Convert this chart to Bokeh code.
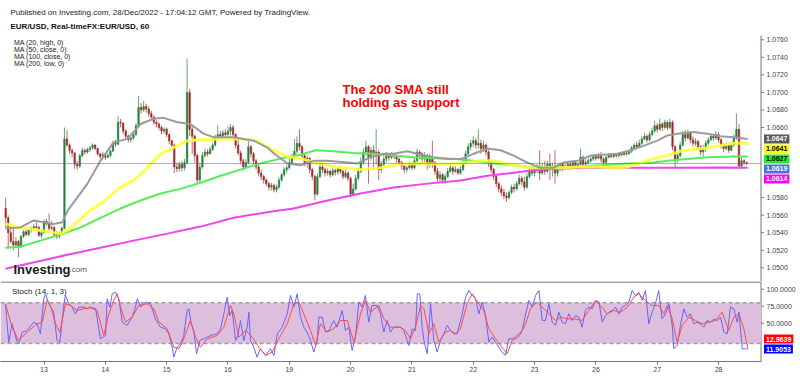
from bokeh.plotting import figure
from bokeh.layouts import column
from bokeh.models import (Range1d, FixedTicker, Label, ColumnDataSource)
from bokeh.core.properties import value
from bokeh.embed import file_html
from bokeh.resources import INLINE

FONT = "Liberation Sans"
BASE = 1.0500      # prices are stored in pips above this base
PIP = 0.0001

# ---------------- hourly EUR/USD candles (pips above 1.0500) ----------------
start_hour = -15          # hour index, 0 = 13 Dec 00:00, weekends removed
first_open = 68
closes = [
    57, 40, 30, 26, 30, 24, 36, 41, 38, 43, 45, 47, 46, 37, 40,
    # 13
    53, 50, 45, 46, 38, 36, 40, 45, 147, 140, 134, 131, 118, 116, 128, 134, 132, 135, 137, 140, 136, 130, 127, 129,
    # 14
    126, 128, 133, 142, 141, 166, 165, 156, 150, 146, 148, 152, 162, 183, 180, 184, 181, 176, 172, 166, 164, 160, 156, 158,
    # 15
    152, 145, 140, 115, 113, 118, 114, 120, 200, 158, 150, 128, 100, 115, 128, 132, 130, 135, 140, 148, 152, 150, 154, 152,
    # 16
    156, 160, 152, 140, 131, 122, 115, 120, 138, 130, 122, 115, 108, 104, 100, 96, 92, 94, 89, 92, 100, 106, 112, 114,
    # 19
    120, 126, 133, 142, 138, 128, 120, 125, 112, 104, 84, 104, 115, 112, 108, 110, 106, 111, 109, 113, 110, 104, 108, 102,
    # 20
    84, 90, 102, 110, 120, 132, 138, 126, 134, 130, 132, 112, 118, 124, 128, 126, 130, 127, 124, 120, 116, 112, 114, 118,
    # 21
    114, 122, 132, 130, 124, 128, 118, 126, 120, 110, 102, 106, 100, 104, 110, 114, 110, 112, 108, 112, 120, 130, 138, 142,
    # 22
    145, 140, 142, 136, 140, 132, 120, 112, 104, 96, 90, 86, 82, 80, 86, 92, 90, 96, 102, 98, 92, 104, 110, 108,
    # 23
    112, 116, 108, 114, 110, 118, 112, 116, 108, 114, 118, 114, 116, 118, 115, 120, 116, 118, 126, 118, 120, 122, 124, 127,
    # 26
    125, 128, 124, 120, 126, 128, 127, 129, 128, 130, 129, 131, 130, 133, 137, 140, 138, 142, 147, 150, 146, 152, 156, 162,
    # 27
    158, 164, 160, 166, 160, 166, 138, 124, 128, 140, 152, 148, 154, 146, 142, 144, 138, 132, 136, 142, 146, 150, 148, 152,
    # 28
    146, 140, 136, 140, 134, 140, 148, 158, 116, 122, 120, 119,
]
highs = [
    80, 60, 48, 46, 35, 32, 37, 43, 44, 45, 47, 50, 52, 48, 44,
    55, 56, 62, 54, 48, 42, 41, 47, 160, 157, 142, 136, 132, 122, 130, 137, 136, 137, 139, 142, 141, 137, 131, 132,
    131, 131, 135, 145, 146, 173, 170, 166, 158, 152, 150, 156, 165, 196, 188, 190, 187, 184, 179, 174, 168, 166, 162, 160,
    160, 153, 146, 141, 120, 121, 122, 124, 239, 204, 162, 152, 130, 120, 132, 136, 135, 138, 142, 152, 163, 156, 157, 158,
    162, 164, 163, 153, 148, 134, 125, 124, 145, 140, 132, 124, 118, 112, 106, 102, 98, 97, 96, 95, 103, 108, 115, 117,
    125, 130, 147, 150, 158, 140, 130, 128, 126, 114, 106, 108, 120, 118, 114, 113, 112, 114, 113, 116, 116, 112, 112, 110,
    104, 96, 106, 114, 126, 136, 145, 140, 138, 140, 158, 134, 122, 128, 132, 130, 132, 131, 129, 126, 122, 118, 117, 121,
    120, 125, 136, 134, 132, 132, 130, 130, 145, 122, 114, 110, 108, 107, 114, 117, 116, 116, 114, 116, 124, 134, 142, 146,
    150, 148, 158, 146, 145, 142, 134, 122, 114, 106, 98, 94, 90, 86, 88, 95, 96, 99, 106, 105, 104, 108, 114, 116,
    116, 118, 134, 120, 122, 122, 130, 120, 134, 118, 120, 120, 118, 121, 120, 123, 122, 120, 136, 128, 124, 126, 127, 130,
    130, 131, 132, 126, 128, 131, 130, 131, 131, 132, 132, 133, 133, 135, 139, 142, 144, 146, 150, 154, 152, 155, 160, 168,
    165, 170, 166, 169, 168, 170, 168, 140, 132, 144, 156, 157, 158, 155, 150, 148, 146, 140, 140, 145, 149, 153, 152, 156,
    155, 148, 142, 143, 142, 144, 152, 176, 164, 126, 124, 121,
]
lows = [
    46, 22, 28, 20, 23, 12, 22, 34, 36, 36, 40, 43, 44, 35, 34,
    39, 48, 42, 43, 36, 33, 33, 38, 44, 138, 130, 126, 113, 112, 114, 126, 129, 130, 132, 135, 134, 128, 124, 126,
    123, 125, 126, 132, 138, 140, 160, 152, 147, 143, 143, 146, 150, 160, 176, 178, 177, 172, 168, 163, 160, 157, 152, 153,
    149, 141, 137, 108, 109, 110, 110, 111, 118, 150, 130, 120, 96, 98, 113, 126, 127, 129, 133, 138, 146, 147, 148, 149,
    150, 151, 150, 136, 128, 118, 111, 113, 118, 126, 118, 112, 105, 100, 96, 93, 88, 88, 86, 86, 90, 98, 104, 108,
    112, 118, 124, 130, 134, 124, 116, 114, 108, 100, 77, 82, 102, 108, 104, 105, 103, 104, 105, 106, 107, 101, 102, 99,
    80, 82, 88, 100, 108, 118, 128, 96, 122, 112, 118, 100, 108, 116, 120, 122, 124, 124, 120, 117, 112, 108, 109, 112,
    111, 112, 120, 124, 120, 118, 112, 114, 114, 106, 98, 97, 96, 96, 102, 108, 106, 108, 106, 106, 110, 118, 128, 134,
    138, 136, 136, 130, 132, 128, 115, 108, 100, 92, 86, 82, 78, 75, 78, 84, 86, 88, 94, 94, 88, 90, 102, 105,
    104, 108, 100, 106, 106, 108, 100, 104, 96, 104, 110, 110, 112, 113, 112, 113, 113, 112, 114, 114, 116, 118, 120, 122,
    122, 124, 120, 117, 118, 125, 125, 125, 126, 126, 127, 128, 128, 129, 131, 135, 136, 137, 140, 145, 143, 144, 150, 154,
    154, 156, 156, 158, 157, 158, 134, 113, 120, 126, 138, 144, 146, 142, 138, 139, 135, 128, 126, 132, 140, 144, 145, 146,
    143, 136, 132, 134, 131, 133, 138, 146, 113, 113, 117, 117,
]

# ---------------- moving averages (hour, pips above 1.0500) ----------------
ma20_h = [-15.1, -9.2, -4.1, -0.2, 3.7, 7.2, 9.2, 17.0, 22.1, 27.2, 32.7, 37.8, 42.9, 46.8, 52.3, 57.3,
          62.4, 66.3, 74.2, 82.0, 87.5, 89.8, 95.3, 100.4, 105.5, 111.0, 118.8, 122.7, 127.8, 132.9,
          136.8, 142.3, 147.4, 152.4, 158.0, 163.0, 168.1, 173.6, 178.7, 183.8, 189.2, 194.3, 199.4,
          203.3, 208.8, 213.9, 219.0, 224.5, 229.6, 234.6, 240.1, 244.0, 248.0, 254.2, 259.7, 264.8,
          269.9, 275.4]
ma20_v = [45, 46, 54, 52, 50, 52, 65, 96, 122, 143, 147, 164, 170, 171, 166, 164, 153, 149, 149, 145,
          137, 131, 119, 117, 122, 122, 120, 119, 126, 130, 130, 133, 129, 126, 124, 124, 130, 136, 134,
          128, 120, 114, 114, 120, 122, 128, 129, 130, 134, 139, 145, 151, 153, 155, 153, 150, 149, 147]

ma50_h = [-15.1, -9.2, -1.4, 6.5, 10.4, 17.0, 22.1, 29.9, 35.0, 40.5, 45.6, 50.7, 56.2, 61.3, 69.1,
          76.9, 83.6, 88.6, 95.3, 100.4, 108.2, 116.0, 123.9, 131.7, 139.5, 147.4, 155.2, 163.0,
          170.8, 175.9, 183.8, 190.4, 202.2, 210.0, 217.8, 222.9, 228.4, 233.5, 238.6, 244.0, 249.1,
          254.2, 259.7, 264.8, 269.9, 275.4]
ma50_v = [50, 46, 42.5, 39, 45, 63, 73, 92, 99.5, 114, 130, 137, 145, 146, 147, 147, 145, 136, 127,
          124.5, 119, 114, 112, 114, 118, 119, 118, 119, 122, 122, 117, 114, 114, 115, 115, 114, 115,
          120, 124.5, 128, 133, 135, 137, 139.5, 142, 142]

ma100_h = [-15.1, -9.2, -1.4, 6.5, 14.3, 22.1, 29.9, 37.8, 45.6, 53.4, 61.3, 69.1, 76.9, 84.7, 92.6,
           100.4, 106.3, 113.3, 121.1, 128.9, 136.8, 144.6, 152.4, 160.3, 168.1, 175.9, 183.8, 190.4,
           197.1, 207.2, 217.8, 228.4, 238.6, 244.0, 249.1, 259.7, 269.9, 275.4]
ma100_v = [23, 24, 31, 38, 46, 57, 67.6, 76.7, 84.7, 90, 97, 105, 112, 119, 124.5, 129, 134, 133, 131,
           130, 128, 126, 125, 124.5, 122, 119, 117, 115, 115, 115, 117, 119, 120, 122, 123.5, 126, 127, 127]

ma200_h = [-15.1, -4.1, 9.2, 22.1, 35.0, 48.3, 61.3, 74.2, 88.6, 97.7, 111.0, 123.9, 136.8, 150.1,
           163.0, 173.6, 181.4, 190.4, 199.4, 212.7, 225.6, 238.6, 251.8, 264.8, 275.4]
ma200_v = [-1, 6, 15, 23, 31, 39, 47, 57, 64, 67.6, 76.7, 84.7, 91.5, 96, 99.5, 105, 107.5, 111, 113,
           114, 114, 114, 114, 114.5, 114]

# last values shown on the price scale (value, text, background, text colour)
price_tags = [(1.0647, "1.0647", "#5a5a5a", "white"),
              (1.0641, "1.0641", "#ffff00", "black"),
              (1.0627, "1.0627", "#22ee22", "black"),
              (1.0619, "1.0619", "#4472d8", "white"),
              (1.0614, "1.0614", "#ff00ff", "white")]
last_price = 1.0619

# ---------------- stochastic (14, 1, 3) ----------------
k_hours = [-15.1, -13.8, -12.5, -10.5, -9.9, -8.5, -6.6, -4.0, -2.7, -1.4,
           -0.1, 0.6, 1.9, 3.8, 5.1, 6.2, 7.8, 8.4, 9.7, 11.0,
           12.3, 13.6, 15.6, 16.9, 18.2, 20.2, 22.1, 24.1, 24.7, 25.8,
           26.7, 28.0, 29.3, 30.6, 32.5, 34.5, 35.8, 36.5, 37.8, 39.7,
           41.7, 43.6, 45.6, 47.5, 48.9, 50.2, 50.8, 52.1, 53.4, 54.7,
           56.0, 56.7, 57.6, 58.6, 59.7, 61.0, 62.6, 65.2, 67.8, 69.1,
           70.4, 71.7, 72.7, 73.6, 75.0, 75.9, 76.9, 78.2, 79.5, 80.2,
           80.8, 82.1, 83.4, 84.7, 86.7, 88.6, 90.0, 91.3, 93.2, 95.2,
           96.5, 97.8, 99.1, 100.4, 101.7, 103.0, 104.3, 105.6, 106.9, 107.6,
           108.9, 110.2, 111.5, 113.4, 114.7, 116.7, 118.0, 119.3, 120.6, 121.9,
           123.2, 124.5, 125.8, 127.1, 128.4, 130.4, 131.7, 133.0, 134.3, 135.6,
           136.9,
           139.5, 140.8, 142.8, 144.1, 145.4, 146.1, 147.1, 148.0, 148.7, 150.0,
           151.3, 152.6, 153.9, 155.2, 156.5, 157.8, 159.1, 160.4, 161.7, 163.7,
           165.0, 166.3, 167.6, 168.9, 170.2, 171.5, 172.8, 174.1, 175.4, 176.7,
           178.0, 179.3, 180.6, 181.9, 183.2, 184.5, 185.8, 187.2, 188.5, 189.8,
           191.1, 192.4, 193.7, 195.0, 196.3, 197.6, 198.9, 200.2, 201.5, 202.8,
           204.1, 205.4, 206.7, 208.0, 209.3, 210.6, 211.9, 213.2, 214.5, 215.9,
           217.2, 218.5, 219.8, 221.1, 222.4, 223.7, 225.0, 226.3, 227.6, 228.9,
           230.2, 231.5, 232.8, 234.1, 235.4, 236.7, 238.0, 239.3, 240.6, 241.9,
           243.3, 244.6, 245.9, 246.5, 247.8, 249.1, 250.4, 251.7, 253.0, 254.3,
           255.6, 256.9, 258.2, 259.6, 260.9, 262.2, 263.5, 264.8, 266.1, 267.4,
           268.7, 270.0, 271.3, 272.0, 273.3, 274.6, 275.5]
k_values = [78.5, 22.2, 49.1, 22.2, 19.7, 36.9, 39.3, 51.5, 49.1, 34.4,
            85.9, 93.2, 78.5, 66.2, 24.6, 22.2, 78.5, 90.8, 78.5, 73.6,
            63.8, 73.6, 73.6, 71.2, 73.6, 71.2, 27.0, 32.0, 85.9, 73.6,
            93.2, 95.6, 85.9, 51.5, 46.7, 58.9, 73.6, 85.9, 73.6, 81.0,
            78.5, 56.4, 44.2, 41.8, 34.4, 14.8, 0.0, 14.8, 19.7, 32.0,
            68.7, 71.2, 49.1, 39.3, 5.0, 24.6, 27.0, 32.0, 34.4, 41.8,
            63.8, 88.3, 61.3, 68.7, 24.6, 32.0, 54.0, 24.6, 44.2, 66.2,
            24.6, 14.8, 0.0, 12.4, 2.6, 12.4, 2.6, 34.4, 44.2, 63.8,
            90.8, 73.6, 93.2, 58.9, 44.2, 36.9, 24.6, 7.5, 24.6, 58.9,
            58.9, 36.9, 39.3, 54.0, 44.2, 68.7, 39.3, 44.2, 9.9, 29.5,
            81.0, 73.6, 90.8, 51.5, 76.1, 76.1, 63.8, 36.9, 54.0, 36.9,
            44.2,
            44.2, 39.3, 17.3, 41.8, 39.3, 93.2, 93.2, 44.2, 24.6, 5.0,
            78.5, 24.6, 7.5, 24.6, 34.4, 46.7, 39.3, 34.4, 34.4, 63.8,
            88.3, 98.1, 90.8, 85.9, 63.8, 81.0, 61.3, 22.2, 29.5, 22.2,
            14.8, 7.5, 2.6, 27.0, 27.0, 29.5, 34.4, 39.3, 63.8, 83.4,
            73.6, 90.8, 98.1, 54.0, 54.0, 78.5, 51.5, 46.7, 66.2, 51.5,
            49.1, 63.8, 54.0, 61.3, 58.9, 44.2, 68.7, 73.6, 71.2, 83.4,
            81.0, 51.5, 61.3, 66.2, 68.7, 73.6, 63.8, 73.6, 76.1, 81.0,
            98.1, 90.8, 95.6, 83.4, 98.1, 49.1, 66.2, 78.5, 98.1, 56.4,
            63.8, 78.5, 46.7, 12.4, 17.3, 46.7, 71.2, 58.9, 63.8, 49.1,
            51.5, 49.1, 44.2, 54.0, 51.5, 56.4, 54.0, 58.9, 36.9, 34.4,
            73.6, 71.2, 51.5, 66.2, 12.4, 12.4, 11.9]
d_hours = [-15.1, -12.5, -9.9, -6.6, -2.7, -0.7, 1.2, 2.5, 4.5, 6.2,
           8.4, 10.4, 13.0, 15.6, 18.2, 20.8, 23.4, 25.4, 27.3, 28.6,
           30.0, 31.9, 34.5, 37.1, 40.4, 43.0, 45.0, 48.2, 50.8, 52.8,
           54.7, 57.3, 59.3, 61.2, 63.9, 67.8, 70.4, 73.0, 74.3, 76.2,
           78.9, 81.5, 84.1, 86.7, 89.3, 91.9, 95.2, 97.8, 99.7, 101.7,
           104.3, 106.3, 108.2, 110.8, 113.4, 116.0, 118.7, 121.3, 123.9, 125.8,
           127.8, 131.0, 133.0, 135.6,
           139.5, 141.5, 143.4, 145.4, 147.4, 148.7, 150.6, 152.6, 154.5, 157.1,
           159.1, 161.1, 163.0, 165.6, 167.6, 170.2, 172.1, 174.1, 176.7, 179.3,
           181.3, 183.2, 185.8, 188.5, 190.4, 193.0, 195.0, 197.6, 200.2, 202.2,
           204.8, 207.4, 210.6, 213.2, 215.9, 217.8, 220.4, 223.0, 225.6, 228.3,
           230.9, 232.8, 235.4, 238.0, 240.6, 242.6, 243.9, 245.9, 247.8, 249.8,
           252.4, 254.9, 257.6, 260.2, 262.8, 265.4, 268.0, 270.0, 272.0, 273.9,
           275.5]
d_values = [78.5, 44.2, 24.6, 36.9, 49.1, 51.5, 83.4, 76.1, 49.1, 36.9,
            78.5, 76.1, 68.7, 71.2, 72.6, 68.7, 32.0, 63.8, 83.4, 93.2,
            73.6, 51.5, 58.9, 76.1, 78.5, 71.2, 51.5, 41.8, 14.8, 12.4,
            27.0, 54.0, 29.5, 14.8, 27.0, 32.0, 44.2, 76.1, 63.8, 29.5,
            39.3, 29.5, 14.8, 2.6, 7.5, 27.0, 49.1, 78.5, 81.0, 63.8,
            39.3, 17.3, 49.1, 36.9, 41.8, 54.0, 54.0, 22.2, 63.8, 83.4,
            66.2, 76.1, 56.4, 44.2,
            44.2, 39.3, 27.0, 44.2, 76.1, 71.2, 34.4, 49.1, 22.2, 36.9,
            39.3, 34.4, 41.8, 78.5, 93.2, 78.5, 68.7, 41.8, 27.0, 14.8,
            5.0, 24.6, 29.5, 49.1, 71.2, 81.0, 73.6, 63.8, 54.0, 58.9,
            56.4, 56.4, 54.0, 68.7, 83.4, 76.1, 63.8, 68.7, 66.2, 73.6,
            88.3, 93.2, 83.4, 76.1, 76.1, 63.8, 76.1, 56.4, 22.2, 46.7,
            58.9, 54.0, 49.1, 51.5, 54.0, 66.2, 39.3, 58.9, 63.8, 41.8,
            13.0]
stoch_tags = [(11.9053, "11.9053", "#0000ff"), (12.9639, "12.9639", "#ff0000")]
stoch_ticks = [50, 75, 100]
band = (20, 80)

# x axis: day starts (hour index) and their labels
day_hours = [0, 24, 48, 72, 96, 120, 144, 168, 192, 216, 240, 264]
day_labels = ["13", "14", "15", "16", "19", "20", "21", "22", "23", "26", "27", "28"]
price_ticks = [1.0500, 1.0520, 1.0540, 1.0560, 1.0580, 1.0660, 1.0680, 1.0700, 1.0720, 1.0740, 1.0760]


def to_price(vals):
    return [BASE + v * PIP for v in vals]


# ---------------- layout constants (page pixels -> hour units) ----------------
PX_PER_HOUR = 2.555
H0_PX = 43.5                 # page x of hour 0


def hx(page_x):
    return (page_x - H0_PX) / PX_PER_HOUR


X_START, X_END = hx(0), hx(800)
X_AXIS = hx(760.5)           # price-scale line
X_TICK = hx(763.5)
X_LABEL = hx(766)
X_TAG = hx(763.5)

xr = Range1d(X_START, X_END)
P1_H = 281
P2_BOTTOM = 361

p1 = figure(width=800, height=P1_H, x_range=xr, y_range=Range1d(1.04844, 1.080481),
            output_backend="svg", toolbar_location=None, x_axis_location=None,
            y_axis_location=None, min_border_left=0, min_border_right=0,
            min_border_top=0, min_border_bottom=0)
p2 = figure(width=800, height=95, x_range=xr, y_range=Range1d(-6.3, 111.3),
            output_backend="svg", toolbar_location=None, y_axis_location=None,
            min_border_left=0, min_border_right=0, min_border_top=0, min_border_bottom=15)

for p in (p1, p2):
    p.outline_line_color = None
    p.xgrid.visible = False
    p.ygrid.visible = False
    p.background_fill_color = "white"
    p.border_fill_color = "white"

xa = p2.xaxis[0]
xa.ticker = FixedTicker(ticks=day_hours)
xa.major_label_overrides = {h: l for h, l in zip(day_hours, day_labels)}
xa.bounds = (X_START, X_AXIS)
xa.axis_line_color = "#777777"
xa.major_tick_line_color = "#777777"
xa.major_tick_out = 3
xa.major_tick_in = 0
xa.minor_tick_line_color = None
xa.major_label_text_font = FONT
xa.major_label_text_font_size = "7px"
xa.major_label_text_color = "#444444"
xa.major_label_standoff = 2


def price_scale(fig, ticks, labels, y_top, y_bottom):
    n = len(ticks)
    fig.segment(x0=[X_AXIS], y0=[y_bottom], x1=[X_AXIS], y1=[y_top],
                line_color="#777777", line_width=1)
    fig.segment(x0=[X_AXIS] * n, y0=ticks, x1=[X_TICK] * n, y1=ticks,
                line_color="#777777", line_width=1)
    fig.text(x=[X_LABEL] * n, y=ticks, text=labels, text_font=value(FONT),
             text_font_size=value("7px"), text_color="#444444", text_baseline="middle",
             text_align="left")


price_scale(p1, price_ticks, [f"{t:.4f}" for t in price_ticks], 1.07649, 1.04844)
price_scale(p2, stoch_ticks, [f"{t:.4f}" for t in stoch_ticks], 111.3, -6.3)

# ---------------- candles ----------------
hours = list(range(start_hour, start_hour + len(closes)))
opens = [first_open] + closes[:-1]
UP, DOWN = "#23803f", "#a32b2b"
src = ColumnDataSource(dict(
    x=hours,
    high=to_price(highs),
    low=to_price(lows),
    top=to_price([max(o, c) for o, c in zip(opens, closes)]),
    bottom=to_price([min(o, c) for o, c in zip(opens, closes)]),
    color=[UP if c >= o else DOWN for o, c in zip(opens, closes)],
))
p1.segment(x0="x", y0="low", x1="x", y1="high", line_color="color", line_width=1,
           line_alpha=0.7, source=src)
p1.vbar(x="x", top="top", bottom="bottom", width=0.6, fill_color="color",
        line_color="color", line_width=0.5, source=src)

p1.line(ma200_h, to_price(ma200_v), line_color="#ee44ee", line_width=2)
p1.line(ma100_h, to_price(ma100_v), line_color="#55ee55", line_width=2)
p1.line(ma50_h, to_price(ma50_v), line_color="#ffff33", line_width=3, line_alpha=0.85)
p1.line(ma20_h, to_price(ma20_v), line_color="#9b9b9b", line_width=2)

# current price (dotted)
p1.segment(x0=[X_START], y0=[last_price], x1=[X_AXIS], y1=[last_price],
           line_color="#2f5fe8", line_dash="1 1", line_width=1)

# ---------------- stochastic pane ----------------
p2.quad(left=[X_START], right=[X_AXIS], bottom=[band[0]], top=[band[1]],
        fill_color="#ddbfdd", line_color=None)
p2.segment(x0=[X_START, X_START], y0=list(band), x1=[X_AXIS, X_AXIS], y1=list(band),
           line_color="#a898a8", line_dash="4 3", line_width=1.5)
p2.line(k_hours, k_values, line_color="#6464ff", line_width=1)
p2.line(d_hours, d_values, line_color="#ff4a4a", line_width=1)
# pane separator
p2.segment(x0=[X_START], y0=[110.6], x1=[X_AXIS], y1=[110.6], line_color="#a6a6a6", line_width=2)


# ---------------- texts ----------------
def add_text(fig, frame_bottom, page_x, page_y, text, size, color="#222222", style="normal",
             baseline="middle"):
    fig.add_layout(Label(x=page_x, y=frame_bottom - page_y, x_units="screen", y_units="screen",
                         text=text, text_font=FONT, text_font_size=f"{size}px", text_color=color,
                         text_font_style=style, text_align="left", text_baseline=baseline))


add_text(p1, P1_H, 10, 11.5,
         "Published on Investing.com, 28/Dec/2022 - 17:04:12 GMT, Powered by TradingView.", 8)
add_text(p1, P1_H, 10, 25.5, "EUR/USD, Real-timeFX:EUR/USD, 60", 8, "#111111", "bold")
for i, t in enumerate(["MA (20, high, 0)", "MA (50, close, 0)", "MA (100, close, 0)", "MA (200, low, 0)"]):
    add_text(p1, P1_H, 13.5, 41.5 + i * 7.2, t, 7)
add_text(p1, P1_H, 342, 88.5, "The 200 SMA still", 13, "#ff0000", "bold", "alphabetic")
add_text(p1, P1_H, 342, 101.8, "holding as support", 13, "#ff0000", "bold", "alphabetic")
add_text(p1, P1_H, 13, 269.3, "Investing", 13, "#1a1a1a", "bold", "alphabetic")
add_text(p1, P1_H, 69, 269.3, ".com", 8, "#555555", "normal", "alphabetic")
add_text(p2, P2_BOTTOM, 11.5, 291, "Stoch (14, 1, 3)", 8)

# value tags on the price scale, stacked so they do not overlap
gap = 10 / 8770.0
prev = None
for val, txt, bg, fg in price_tags:
    y = val if prev is None else min(val, prev - gap)
    prev = y
    p1.add_layout(Label(x=X_TAG, y=y, text=txt, text_font=FONT,
                        text_font_size="7px", text_font_style="bold", text_color=fg,
                        background_fill_color=bg, background_fill_alpha=1.0, padding=2,
                        text_align="left", text_baseline="middle"))

gap2 = 10 / 0.68
prev = None
for val, txt, bg in stoch_tags:
    y = val if prev is None else max(val, prev + gap2)
    prev = y
    p2.add_layout(Label(x=X_TAG, y=y, text=txt, text_font=FONT,
                        text_font_size="7px", text_font_style="bold", text_color="white",
                        background_fill_color=bg, background_fill_alpha=1.0, padding=2,
                        text_align="left", text_baseline="middle"))

layout = column(p1, p2, spacing=0)
open("out.html", "w").write(file_html(layout, INLINE))
